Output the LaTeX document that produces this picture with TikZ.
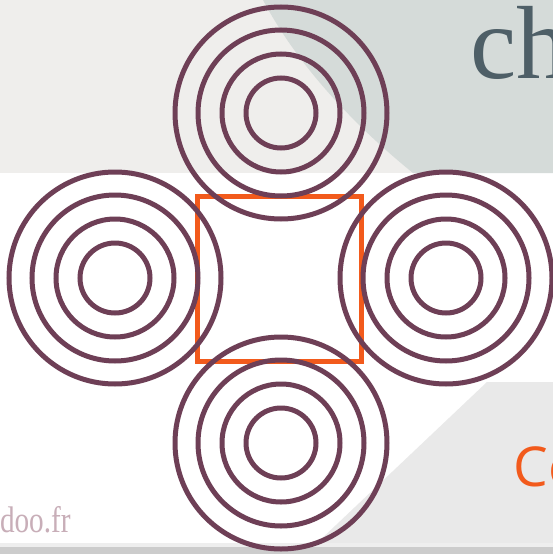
\documentclass[tikz,border=0pt]{standalone}
\usepackage{fontspec}
\newfontfamily\serifA{Liberation Serif}
\newfontfamily\sansA{Open Sans}
\definecolor{plum}{HTML}{6E3F56}
\definecolor{orangeA}{HTML}{F25A1C}
\definecolor{lightA}{HTML}{EFEEEC}
\definecolor{greenA}{HTML}{D5DBD9}
\definecolor{slateA}{HTML}{4E5F67}
\definecolor{grayB}{HTML}{E9E9E9}
\definecolor{bandA}{HTML}{EEEEEE}
\definecolor{bandB}{HTML}{CCCCCC}
\definecolor{pinkA}{HTML}{C8AEB8}
\tikzset{
  ring/.style={draw=plum, line width=5pt},
  frame/.style={draw=orangeA, line width=5pt},
  label/.style={inner sep=0pt, outer sep=0pt}
}
\begin{document}
\begin{tikzpicture}[x=1pt,y=-1pt]
\useasboundingbox (0,0) rectangle (553,554);
% backgrounds
\fill[white] (0,0) rectangle (553,554);
\fill[lightA] (0,0) rectangle (553,173);
\fill[greenA] (263,0) .. controls (300,70) and (360,130) .. (413,173) -- (553,173) -- (553,0) -- cycle;
\fill[grayB] (487,382) -- (553,382) -- (553,543) -- (317,543) -- cycle;
\fill[bandA] (0,543) rectangle (553,547);
\fill[bandB] (0,547) rectangle (553,554);
% texts
\node[label, anchor=base west, text=slateA] (ch) at (470.5,78) {\serifA\fontsize{104}{110}\selectfont ch};
\node[label, anchor=base west, text=orangeA] (co) at (513.5,486) {\sansA\fontsize{55}{60}\selectfont Co};
\node[label, anchor=base west, text=pinkA] (doo) at (0,532) {\scalebox{0.79}[1]{\serifA\fontsize{37}{40}\selectfont doo.fr}};
% centres
\coordinate (T) at (281,113);
\coordinate (B) at (281,443);
\coordinate (L) at (115,278);
\coordinate (R) at (446,278);
% square
\draw[frame] (197.5,196.5) rectangle (361,361);
% rings
\foreach \c in {T,B,L,R}{
  \foreach \r in {35,59,83,106}{
    \draw[ring] (\c) circle[radius=\r pt];
  }
}
\end{tikzpicture}
\end{document}
